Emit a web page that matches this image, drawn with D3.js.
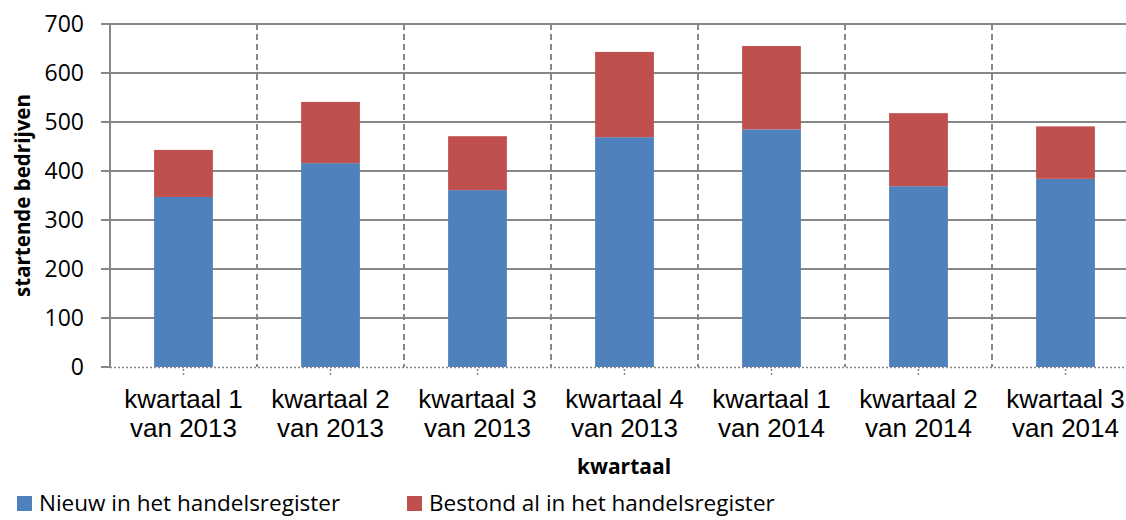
<!DOCTYPE html>
<html>
<head>
<meta charset="utf-8">
<script src="https://cdn.jsdelivr.net/npm/d3@7"></script>
<style>
  body { margin: 0; background: #fff; }
  svg { display: block; }
</style>
</head>
<body>
<svg id="chart" width="1126" height="520"></svg>
<script>
//data
var categories = ["kwartaal 1|van 2013", "kwartaal 2|van 2013", "kwartaal 3|van 2013", "kwartaal 4|van 2013",
                  "kwartaal 1|van 2014", "kwartaal 2|van 2014", "kwartaal 3|van 2014"];
var nieuw = [347, 416, 361, 469, 485, 369, 384];          //blue, bottom of the stack
var bestond = [96, 125, 110, 174, 170, 149, 107];          //red, on top
var seriesNames = ["Nieuw in het handelsregister", "Bestond al in het handelsregister"];
var seriesColors = ["#4F81BD", "#C0504D"];
var yTicks = [0, 100, 200, 300, 400, 500, 600, 700];

var svg = d3.select("#chart"),
    margin = {top: 24, left: 110, bottom: 153},
    step = 147,
    plotBottom = 520 - margin.bottom,
    gridColor = "#878787",
    calibri = "'Open Sans', 'Noto Sans', sans-serif",
    arial = "'Liberation Sans', Arial, sans-serif";

var x = d3.scaleBand()
    .domain(categories)
    .range([margin.left, margin.left + step * categories.length])
    .paddingInner(0.6)
    .paddingOuter(0.3);

var y = d3.scaleLinear()
    .domain([0, 700])
    .range([plotBottom, margin.top]);

//horizontal gridlines
svg.append("g").selectAll("line")
    .data(yTicks.filter(function (d) { return d > 0; }))
    .enter().append("line")
    .attr("x1", margin.left - 9)
    .attr("x2", 1126)
    .attr("y1", function (d) { return y(d); })
    .attr("y2", function (d) { return y(d); })
    .attr("stroke", gridColor)
    .attr("stroke-width", 2);

//dashed separators between the quarters
svg.append("g").selectAll("line")
    .data(categories.slice(1))
    .enter().append("line")
    .attr("x1", function (d) { return x(d) - x.step() * 0.3; })
    .attr("x2", function (d) { return x(d) - x.step() * 0.3; })
    .attr("y1", y(700))
    .attr("y2", y(0))
    .attr("stroke", gridColor)
    .attr("stroke-width", 2)
    .attr("stroke-dasharray", "6,4");

//stacked bars
var stacked = categories.map(function (c, i) {
    return {cat: c, parts: [[0, nieuw[i]], [nieuw[i], nieuw[i] + bestond[i]]]};
});

var groups = svg.append("g").selectAll("g")
    .data(stacked)
    .enter().append("g");

groups.selectAll("rect")
    .data(function (d) { return d.parts.map(function (p, k) { return {cat: d.cat, p: p, k: k}; }); })
    .enter().append("rect")
    .attr("x", function (d) { return x(d.cat); })
    .attr("width", x.bandwidth())
    .attr("y", function (d) { return y(d.p[1]); })
    .attr("height", function (d) { return y(d.p[0]) - y(d.p[1]); })
    .attr("fill", function (d) { return seriesColors[d.k]; });

//y axis line and ticks
svg.append("line")
    .attr("x1", margin.left).attr("x2", margin.left)
    .attr("y1", y(700)).attr("y2", y(0))
    .attr("stroke", gridColor).attr("stroke-width", 2);

svg.append("line")
    .attr("x1", margin.left - 9).attr("x2", margin.left)
    .attr("y1", y(0)).attr("y2", y(0))
    .attr("stroke", gridColor).attr("stroke-width", 2);

svg.append("g").selectAll("text")
    .data(yTicks)
    .enter().append("text")
    .attr("x", margin.left - 26)
    .attr("y", function (d) { return y(d) + 8; })
    .attr("text-anchor", "end")
    .style("font-family", calibri)
    .style("font-size", "23px")
    .attr("fill", "#000")
    .text(function (d) { return d; });

//dotted x axis with small dotted ticks
svg.append("line")
    .attr("x1", margin.left).attr("x2", 1126)
    .attr("y1", y(0) + 0.5).attr("y2", y(0) + 0.5)
    .attr("stroke", gridColor).attr("stroke-width", 1.5)
    .attr("stroke-dasharray", "2,2");

svg.append("g").selectAll("line")
    .data(categories)
    .enter().append("line")
    .attr("x1", function (d) { return x(d) + x.bandwidth() / 2; })
    .attr("x2", function (d) { return x(d) + x.bandwidth() / 2; })
    .attr("y1", y(0) + 2).attr("y2", y(0) + 8)
    .attr("stroke", gridColor).attr("stroke-width", 1.5)
    .attr("stroke-dasharray", "2,2");

//category labels on two lines
var catLabels = svg.append("g").selectAll("text")
    .data(categories)
    .enter().append("text")
    .attr("text-anchor", "middle")
    .style("font-family", arial)
    .style("font-size", "26px")
    .attr("fill", "#000");

catLabels.selectAll("tspan")
    .data(function (d) { return d.split("|").map(function (s) { return {cat: d, s: s}; }); })
    .enter().append("tspan")
    .attr("x", function (d) { return x(d.cat) + x.bandwidth() / 2; })
    .attr("y", function (d, i) { return 408 + i * 29; })
    .text(function (d) { return d.s; });

//axis titles
svg.append("text")
    .attr("x", 624).attr("y", 474)
    .attr("text-anchor", "middle")
    .style("font-family", calibri)
    .style("font-size", "21px")
    .style("font-weight", "bold")
    .text("kwartaal");

svg.append("text")
    .attr("transform", "translate(30," + ((y(0) + y(700)) / 2) + ") rotate(-90)")
    .attr("text-anchor", "middle")
    .style("font-family", calibri)
    .style("font-size", "20.5px")
    .style("font-weight", "bold")
    .text("startende bedrijven");

//legend (kept just inside the bottom edge)
var legendX = [17, 407];
var legend = svg.append("g").selectAll("g")
    .data(seriesNames)
    .enter().append("g")
    .attr("transform", function (d, i) { return "translate(" + legendX[i] + ",496)"; });

legend.append("rect")
    .attr("width", 15).attr("height", 15)
    .attr("fill", function (d, i) { return seriesColors[i]; });

legend.append("text")
    .attr("x", 22).attr("y", 15)
    .style("font-family", calibri)
    .style("font-size", "22.5px")
    .attr("fill", "#000")
    .text(function (d) { return d; });
</script>
</body>
</html>
